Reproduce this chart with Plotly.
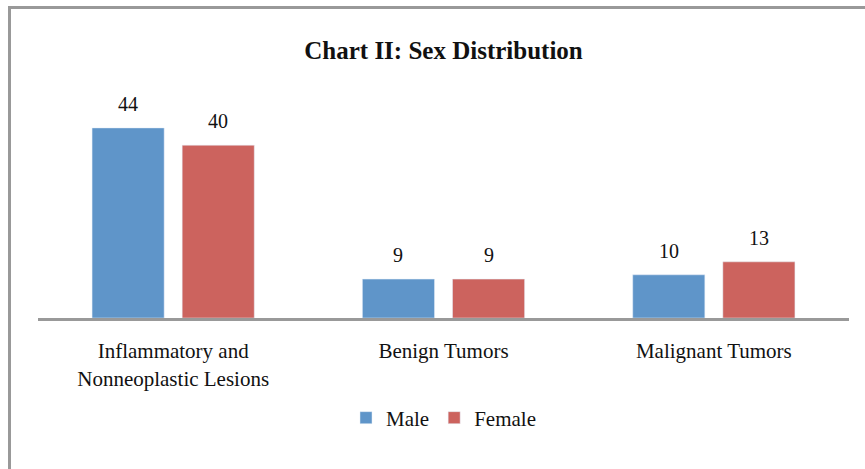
import plotly.graph_objects as go

categories = ["Inflammatory and<br>Nonneoplastic Lesions", "Benign Tumors", "Malignant Tumors"]
male = [44, 9, 10]
female = [40, 9, 13]
series_names = ["Male", "Female"]
colors = ["#5F95C9", "#CC635E"]

W, H = 865, 469
L, R, T, B = 38, 16, 102, 151
plot_w = W - L - R
plot_h = H - T - B
BARGAP = 1 / 3

font_family = "Liberation Serif, Times New Roman, serif"

fig = go.Figure()
for name, vals, col in zip(series_names, [male, female], colors):
    fig.add_trace(go.Bar(x=categories, y=vals, name=name, marker_color=col))

# value labels above bars (offset within the group computed from the bar layout)
n_series = 2
slot = (1 - BARGAP) / n_series
for s, vals in enumerate([male, female]):
    off = -(1 - BARGAP) / 2 + slot * (s + 0.5)
    for i, v in enumerate(vals):
        fig.add_annotation(x=i + off, y=v, xref="x", yref="y", text=str(v),
                           showarrow=False, yanchor="bottom", yshift=11,
                           font=dict(family=font_family, size=20, color="#111"))

# outer gray border (partly cropped in the reference)
fig.add_shape(type="rect", xref="paper", yref="paper",
              x0=(9.5 - L) / plot_w, x1=(W + 10 - L) / plot_w,
              y0=(T + plot_h - (H + 10)) / plot_h, y1=(T + plot_h - 7.5) / plot_h,
              line=dict(color="#999999", width=3), fillcolor="rgba(0,0,0,0)", layer="below")

fig.update_layout(
    width=W, height=H,
    margin=dict(l=L, r=R, t=T, b=B),
    paper_bgcolor="white", plot_bgcolor="white",
    barmode="group", bargap=BARGAP, bargroupgap=0.2,
    title=dict(text="<b>Chart II: Sex Distribution</b>", x=0.5, xanchor="center",
               xref="paper", y=1 - 50 / H, yanchor="middle",
               font=dict(family=font_family, size=25, color="#111")),
    font=dict(family=font_family, size=21, color="#111"),
    showlegend=True,
    legend=dict(orientation="h", x=0.5, xanchor="center", y=-(418 - 318) / plot_h,
                yanchor="middle", font=dict(family=font_family, size=21, color="#111"),
                itemwidth=30, traceorder="normal"),
    xaxis=dict(showline=True, linecolor="#999999", linewidth=3, showgrid=False,
               ticks="outside", ticklen=12, tickcolor="rgba(0,0,0,0)",
               tickfont=dict(family=font_family, size=21, color="#111")),
    yaxis=dict(range=[0, 50], visible=False, showgrid=False, zeroline=False),
)

fig.write_html("out.html", config={"displayModeBar": False},
               post_script="document.body.style.margin='0';")
